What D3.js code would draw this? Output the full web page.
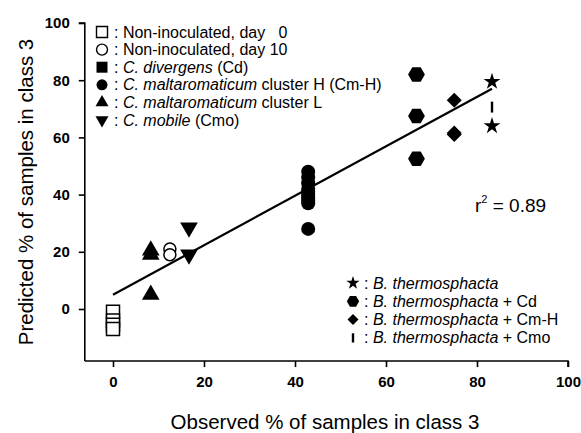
<!DOCTYPE html>
<html>
<head>
<meta charset="utf-8">
<script src="https://cdn.jsdelivr.net/npm/d3@7"></script>
<style>
  body { margin: 0; background: #fff; }
  text { font-family: "Liberation Sans", Arial, sans-serif; fill: #000; }
</style>
</head>
<body>
<script>
// observed (x) / predicted (y) per group
var xTicks = [0, 20, 40, 60, 80, 100];
var yTicks = [0, 20, 40, 60, 80, 100];

var day0 = [[0, -1], [0, -4], [0, -5.5], [0, -7]];
var day10 = [[12.5, 21], [12.5, 19]];
var cdiv = [];
var cmH = [[42.9, 48], [42.9, 46], [42.9, 44], [42.9, 42], [42.9, 41], [42.9, 40], [42.9, 39], [42.9, 38], [42.9, 37], [42.9, 28]];
var cmL = [[8.3, 20.5], [8.3, 19], [8.3, 5]];
var cmo = [[16.7, 28.5], [16.7, 19]];
var bt = [[83.3, 79.5], [83.3, 64]];
var btCd = [[66.7, 82], [66.7, 67.5], [66.7, 52.5]];
var btCmH = [[75, 73], [75, 61.5], [75, 61]];
var btCmo = [[83.3, 70.6]];
var fitLine = [[0, 5], [83.3, 77]];

var legendTop = [
  {sym: 'square', fill: 'none', parts: [['Non-inoculated, day\u00a0\u00a0\u00a00', false]]},
  {sym: 'circle', fill: 'none', parts: [['Non-inoculated, day 10', false]]},
  {sym: 'square', fill: '#000', parts: [['C. divergens', true], [' (Cd)', false]]},
  {sym: 'circle', fill: '#000', parts: [['C. maltaromaticum', true], [' cluster H (Cm-H)', false]]},
  {sym: 'triangle', fill: '#000', parts: [['C. maltaromaticum', true], [' cluster L', false]]},
  {sym: 'tridown', fill: '#000', parts: [['C. mobile', true], [' (Cmo)', false]]}
];
var legendBottom = [
  {sym: 'star', fill: '#000', parts: [['B. thermosphacta', true]]},
  {sym: 'hexagon', fill: '#000', parts: [['B. thermosphacta', true], [' + Cd', false]]},
  {sym: 'diamond', fill: '#000', parts: [['B. thermosphacta', true], [' + Cm-H', false]]},
  {sym: 'bar', fill: '#000', parts: [['B. thermosphacta', true], [' + Cmo', false]]}
];

var width = 581, height = 433;
var svg = d3.select('body').append('svg').attr('width', width).attr('height', height);

var x = d3.scaleLinear().domain([0, 100]).range([113, 568]);
var y = d3.scaleLinear().domain([0, 100]).range([309, 23]);
var xMin = -6.2, yMin = -18.2;

// axes
var xAxis = svg.append('g').attr('transform', 'translate(0,' + y(yMin) + ')')
  .call(d3.axisBottom(x).tickValues(xTicks).tickSize(6).tickPadding(9));
var yAxis = svg.append('g').attr('transform', 'translate(' + x(xMin) + ',0)')
  .call(d3.axisLeft(y).tickValues(yTicks).tickSize(6).tickPadding(9));
xAxis.select('.domain').attr('d', 'M' + x(xMin) + ',0H' + x(100) + 'V6');
yAxis.select('.domain').attr('d', 'M-6,' + y(100) + 'H0V' + y(yMin));
[xAxis, yAxis].forEach(function(a) {
  a.selectAll('path, line').attr('stroke', '#000').attr('stroke-width', 1.6);
  a.selectAll('text').attr('font-size', 15).attr('font-weight', 'bold')
    .style('font-family', '"Liberation Sans", Arial, sans-serif');
});

svg.append('text').attr('x', 325).attr('y', 429).attr('text-anchor', 'middle')
  .attr('font-size', 20.5).text('Observed % of samples in class 3');
svg.append('text').attr('transform', 'translate(33,192) rotate(-90)').attr('text-anchor', 'middle')
  .attr('font-size', 20.5).text('Predicted % of samples in class 3');

// regression line
svg.append('path').datum(fitLine)
  .attr('d', d3.line().x(function(d) { return x(d[0]); }).y(function(d) { return y(d[1]); }))
  .attr('stroke', '#000').attr('stroke-width', 2.2).attr('fill', 'none');

function hexPath(r) {
  var pts = d3.range(6).map(function(i) {
    var a = Math.PI / 3 * i;
    return [r * Math.cos(a), r * Math.sin(a)];
  });
  return 'M' + pts.join('L') + 'Z';
}

function symPath(sym, s) {
  if (sym === 'hexagon') return hexPath(s * 0.56);
  if (sym === 'bar') return 'M-1.2,' + (-s * 0.42) + 'H1.2V' + (s * 0.42) + 'H-1.2Z';
  if (sym === 'diamond') {
    var h = s / 2;
    return 'M0,' + (-h) + 'L' + h + ',0L0,' + h + 'L' + (-h) + ',0Z';
  }
  var t = {square: d3.symbolSquare, circle: d3.symbolCircle, triangle: d3.symbolTriangle,
    tridown: d3.symbolTriangle, star: d3.symbolStar}[sym];
  var area = {square: s * s, circle: Math.PI * s * s / 4, triangle: s * s * 0.6,
    tridown: s * s * 0.6, star: s * s * 0.45}[sym];
  return d3.symbol().type(t).size(area)();
}

function drawGroup(data, sym, fill, size) {
  svg.append('g').selectAll('path').data(data).enter().append('path')
    .attr('d', symPath(sym, size))
    .attr('transform', function(d) {
      return 'translate(' + x(d[0]) + ',' + y(d[1]) + ')' + (sym === 'tridown' ? ' rotate(180)' : '');
    })
    .attr('fill', fill === 'none' ? '#fff' : fill)
    .attr('stroke', '#000').attr('stroke-width', fill === 'none' ? 1.5 : 0);
}

drawGroup(day0, 'square', 'none', 13);
drawGroup(day10, 'circle', 'none', 12);
drawGroup(cdiv, 'square', '#000', 13);
drawGroup(cmH, 'circle', '#000', 14);
drawGroup(cmL, 'triangle', '#000', 15);
drawGroup(cmo, 'tridown', '#000', 15);
drawGroup(btCd, 'hexagon', '#000', 15);
drawGroup(btCmH, 'diamond', '#000', 15);
drawGroup(bt, 'star', '#000', 14);
drawGroup(btCmo, 'bar', '#000', 13);

// r squared
var r2 = svg.append('text').attr('x', 475).attr('y', 212).attr('font-size', 19);
r2.append('tspan').text('r');
r2.append('tspan').attr('dy', -9).attr('font-size', 11).text('2');
r2.append('tspan').attr('dy', 9).text(' = 0.89');

function drawLegend(items, sx, tx, y0, dy) {
  items.forEach(function(it, i) {
    var cy = y0 + i * dy;
    svg.append('path').attr('d', symPath(it.sym, 11))
      .attr('transform', 'translate(' + sx + ',' + cy + ')' + (it.sym === 'tridown' ? ' rotate(180)' : ''))
      .attr('fill', it.fill === 'none' ? '#fff' : '#000')
      .attr('stroke', '#000').attr('stroke-width', it.fill === 'none' ? 1.4 : 0);
    var t = svg.append('text').attr('x', tx).attr('y', cy + 5.5).attr('font-size', 16);
    t.append('tspan').text(': ');
    it.parts.forEach(function(p) {
      t.append('tspan').attr('font-style', p[1] ? 'italic' : 'normal').text(p[0]);
    });
  });
}

drawLegend(legendTop, 102, 114, 32, 17.6);
drawLegend(legendBottom, 353, 364, 283, 18.3);
</script>
</body>
</html>
